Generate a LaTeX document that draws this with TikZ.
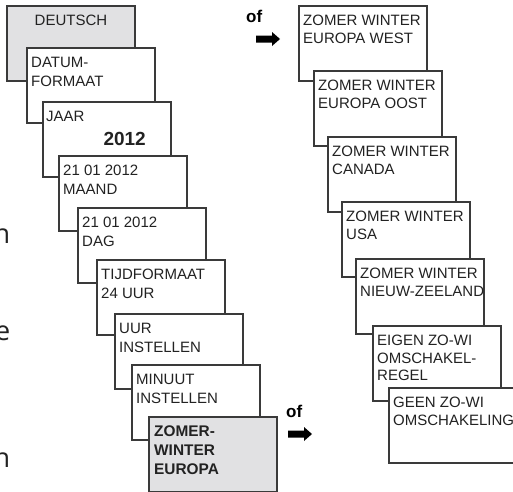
\documentclass[tikz,border=0pt]{standalone}
\usepackage{fontspec}
\setmainfont{Liberation Sans}
\newfontfamily\fragfont{Open Sans}
\definecolor{linegray}{HTML}{3A3A3A}
\definecolor{boxgray}{HTML}{E1E1E3}
\definecolor{textgray}{HTML}{222222}
\begin{document}
\begin{tikzpicture}[x=1pt,y=-1pt,
  box/.style={draw=linegray, line width=1.1pt, fill=white, minimum width=128pt,
    minimum height=75pt, anchor=north west, inner sep=0pt, outer sep=0pt},
  graybox/.style={box, fill=boxgray},
  txt/.style={anchor=north west, inner sep=0pt, align=left, text=textgray,
    font=\fontsize{15}{19}\selectfont},
  rtxt/.style={txt, font=\fontsize{15}{17.6}\selectfont},
  btxt/.style={txt, font=\fontsize{15.4}{19}\selectfont\bfseries},
  oftxt/.style={anchor=base west, inner sep=0pt, text=black,
    font=\fontsize{17}{17}\selectfont\bfseries},
  frag/.style={anchor=base east, inner sep=0pt, text=textgray,
    font=\fontsize{27}{27}\fragfont},
  fatarrow/.pic={\fill[black] (0,-3.5) -- (16,-3.5) -- (16,-7) -- (24,0) -- (16,7) -- (16,3.5) -- (0,3.5) -- cycle;}
]
\useasboundingbox (0,0) rectangle (513,491);

% left column
\node[graybox] (b1) at (7,6) {};
\node[txt, anchor=north] (t1) at ([yshift=-9pt]b1.north) {DEUTSCH};
\node[box] (b2) at (27,48) {};
\node[txt] (t2) at ([shift={(4pt,-9pt)}]b2.north west) {DATUM-\\FORMAAT};
\node[box] (b3) at (43,102) {};
\node[txt] (t3) at ([shift={(3pt,-9pt)}]b3.north west) {JAAR};
\node[txt, anchor=north east, font=\fontsize{19}{19}\selectfont\bfseries] (t3b) at ([shift={(103pt,-30pt)}]b3.north west) {2012};
\node[box] (b4) at (59,156) {};
\node[txt] (t4) at ([shift={(4pt,-9pt)}]b4.north west) {21 01 2012\\MAAND};
\node[box] (b5) at (78,208) {};
\node[txt] (t5) at ([shift={(4pt,-9pt)}]b5.north west) {21 01 2012\\DAG};
\node[box] (b6) at (97,260) {};
\node[txt] (t6) at ([shift={(4pt,-9pt)}]b6.north west) {TIJDFORMAAT\\24 UUR};
\node[box] (b7) at (115,314) {};
\node[txt] (t7) at ([shift={(4pt,-9pt)}]b7.north west) {UUR\\INSTELLEN};
\node[box] (b8) at (132,365) {};
\node[txt] (t8) at ([shift={(4pt,-9pt)}]b8.north west) {MINUUT\\INSTELLEN};
\node[graybox] (b9) at (149,417) {};
\node[btxt] (t9) at ([shift={(5pt,-9pt)}]b9.north west) {ZOMER-\\WINTER\\EUROPA};

% right column
\node[box] (r1) at (299,6) {};
\node[rtxt] (s1) at ([shift={(4pt,-9pt)}]r1.north west) {ZOMER WINTER\\EUROPA WEST};
\node[box] (r2) at (314,71) {};
\node[rtxt] (s2) at ([shift={(4pt,-9pt)}]r2.north west) {ZOMER WINTER\\EUROPA OOST};
\node[box] (r3) at (328,137) {};
\node[rtxt] (s3) at ([shift={(4pt,-9pt)}]r3.north west) {ZOMER WINTER\\CANADA};
\node[box] (r4) at (342,202) {};
\node[rtxt] (s4) at ([shift={(4pt,-9pt)}]r4.north west) {ZOMER WINTER\\USA};
\node[box] (r5) at (356,259) {};
\node[rtxt] (s5) at ([shift={(4pt,-9pt)}]r5.north west) {ZOMER WINTER\\NIEUW-ZEELAND};
\node[box] (r6) at (373,326) {};
\node[rtxt] (s6) at ([shift={(4pt,-9pt)}]r6.north west) {EIGEN ZO-WI\\OMSCHAKEL-\\REGEL};
\node[box] (r7) at (389,388) {};
\node[rtxt] (s7) at ([shift={(4pt,-9pt)}]r7.north west) {GEEN ZO-WI\\OMSCHAKELING};

% "of" labels and arrows
\node[oftxt] (of1) at (246,22) {of};
\pic at (256,39) {fatarrow};
\node[oftxt] (of2) at (286,417) {of};
\pic at (288,434) {fatarrow};

% cut-off letters at the left edge
\node[frag] (f1) at (10.5,243) {n};
\node[frag] (f2) at (10.5,340) {e};
\node[frag] (f3) at (10.5,467) {n};
\end{tikzpicture}
\end{document}
